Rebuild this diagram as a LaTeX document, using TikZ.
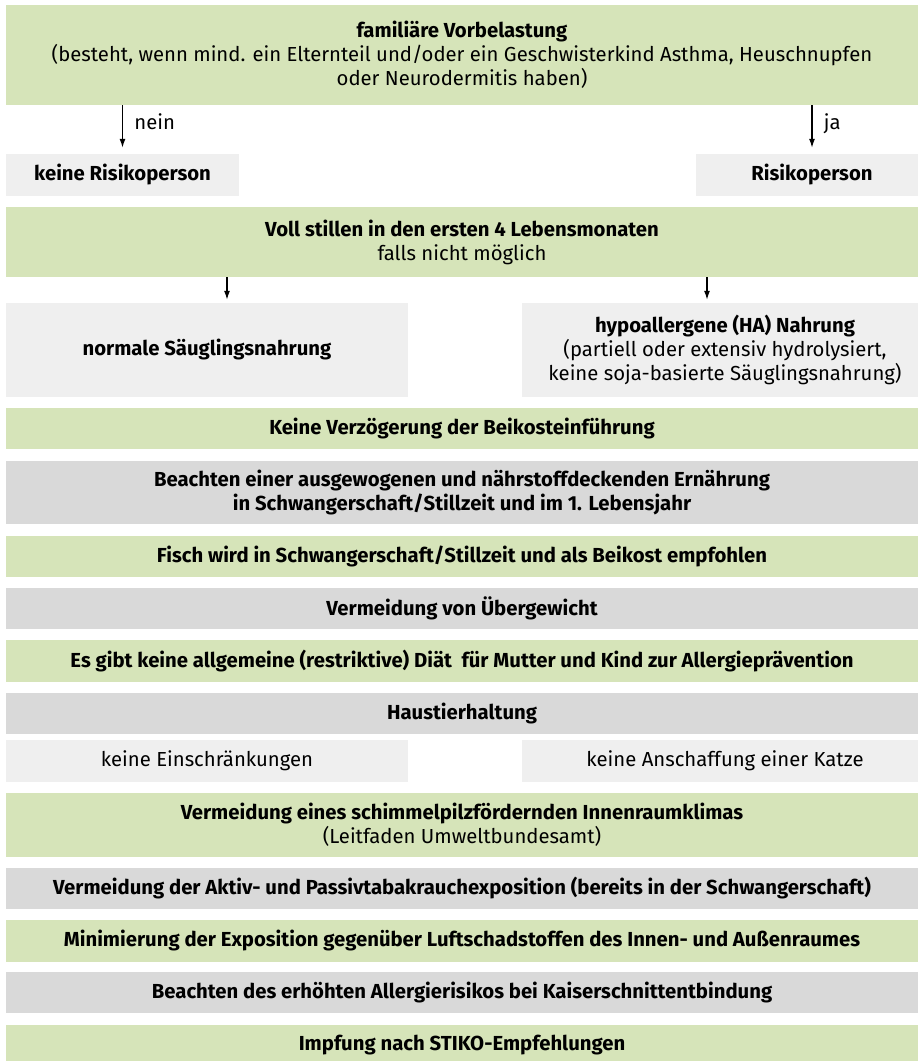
\documentclass[tikz,border=0pt]{standalone}
\usepackage{fontspec}
\setmainfont{Fira Sans}
\usetikzlibrary{arrows.meta}
\definecolor{gruen}{RGB}{214,228,185}
\definecolor{dgrau}{RGB}{217,217,217}
\definecolor{hgrau}{RGB}{239,239,239}
\newcommand\schrift{\fontsize{20.3}{24}\selectfont}
\tikzset{kasten/.style={inner sep=0pt,align=center,font=\schrift},
  fett/.style={font=\schrift\bfseries},
  gr/.style={kasten,fill=gruen,minimum width=912,minimum height=41},
  dg/.style={kasten,fill=dgrau,minimum width=912,minimum height=41},
  hg/.style={kasten,fill=hgrau,minimum height=42},
  pfeil/.style={-{Latex[length=9pt,width=6pt]},line width=1.3pt},
  marke/.style={pos=0.5,anchor=base west,xshift=8pt,yshift=-3pt,font=\schrift}}
\begin{document}
\begin{tikzpicture}[x=1pt,y=-1pt]
\useasboundingbox (0,0) rectangle (918,1061);
\clip (0,0) rectangle (918,1061);
\node[gr,minimum height=100] (vorb) at (462,55) {\textbf{familiäre Vorbelastung}\\(besteht, wenn mind. ein Elternteil und/oder ein Geschwisterkind Asthma, Heuschnupfen\\oder Neurodermitis haben)};
\node[hg,fett,minimum width=233] (keinrisiko) at (122.5,175) {keine Risikoperson};
\node[hg,fett,minimum width=232] (risiko) at (812,175) {Risikoperson};
\draw[pfeil] (vorb.south -| keinrisiko) -- ([yshift=6]keinrisiko.north) node[marke]{nein};
\draw[pfeil] (vorb.south -| risiko) -- ([yshift=6]risiko.north) node[marke]{ja};
\node[gr,minimum height=70] (stillen) at (462,242) {\textbf{Voll stillen in den ersten 4 Lebensmonaten}\\falls nicht möglich};
\node[hg,fett,minimum width=402,minimum height=94] (normal) at (207,350) {normale Säuglingsnahrung};
\node[hg,minimum width=406,minimum height=94] (hypo) at (725,350) {\textbf{hypoallergene (HA) Nahrung}\\(partiell oder extensiv hydrolysiert,\\keine soja-basierte Säuglingsnahrung)};
\coordinate (nl) at ([xshift=20pt]normal.north);
\coordinate (nr) at ([xshift=-18pt]hypo.north);
\draw[pfeil] (nl |- stillen.south) -- ([yshift=3]nl);
\draw[pfeil] (nr |- stillen.south) -- ([yshift=3]nr);
\node[gr,fett] (beikost) at (462,428.5) {Keine Verzögerung der Beikosteinführung};
\node[dg,fett,minimum height=63] (ernaehrung) at (462,492.5) {Beachten einer ausgewogenen und nährstoffdeckenden Ernährung\\in Schwangerschaft/Stillzeit und im 1. Lebensjahr};
\node[gr,fett] (fisch) at (462,556.5) {Fisch wird in Schwangerschaft/Stillzeit und als Beikost empfohlen};
\node[dg,fett] (gewicht) at (462,608.5) {Vermeidung von Übergewicht};
\node[gr,fett,minimum height=42] (diaet) at (462,661) {Es gibt keine allgemeine (restriktive) Diät\ \ für Mutter und Kind zur Allergieprävention};
\node[dg,fett] (haustier) at (462,713.5) {Haustierhaltung};
\node[hg,minimum width=402] (keineinschr) at (207,761) {keine Einschränkungen};
\node[hg,minimum width=406] (katze) at (725,761) {keine Anschaffung einer Katze};
\node[gr,minimum height=64] (schimmel) at (462,825) {\textbf{Vermeidung eines schimmelpilzfördernden Innenraumklimas}\\(Leitfaden Umweltbundesamt)};
\node[dg,fett] (tabak) at (462,888.5) {Vermeidung der Aktiv- und Passivtabakrauchexposition (bereits in der Schwangerschaft)};
\node[gr,fett,minimum height=42] (luft) at (462,941) {Minimierung der Exposition gegenüber Luftschadstoffen des Innen- und Außenraumes};
\node[dg,fett] (kaiser) at (462,992.5) {Beachten des erhöhten Allergierisikos bei Kaiserschnittentbindung};
\node[gr,fett] (impfung) at (462,1045.5) {Impfung nach STIKO-Empfehlungen};
\end{tikzpicture}
\end{document}
